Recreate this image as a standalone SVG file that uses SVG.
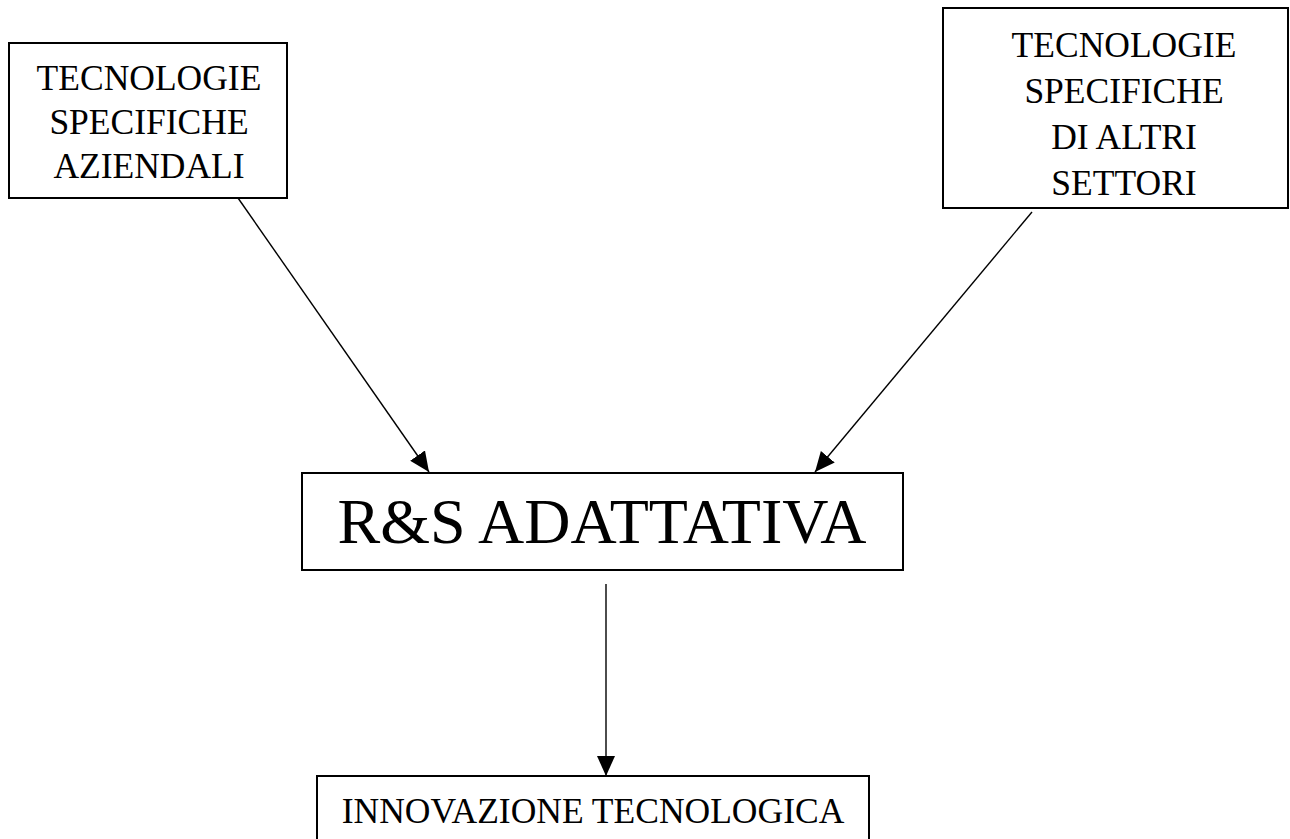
<svg xmlns="http://www.w3.org/2000/svg" width="1290" height="839" viewBox="0 0 1290 839">
<style>
  .box { fill: #ffffff; stroke: #000000; stroke-width: 2; }
  .lbl { font-family: "Liberation Serif", "Times New Roman", serif; fill: #000000; text-anchor: middle; }
  .small { font-size: 35.5px; }
  .big { font-size: 64px; }
  .conn { stroke: #000000; stroke-width: 1.4; fill: none; marker-end: url(#arrow); }
</style>
<defs>
  <marker id="arrow" markerUnits="userSpaceOnUse" markerWidth="22" markerHeight="20" refX="20" refY="9" orient="auto">
    <path d="M0,0 L20,9 L0,18 Z" fill="#000000"/>
  </marker>
</defs>
<rect width="1290" height="839" fill="#ffffff"/>
<g id="connectors">
  <line class="conn" x1="238" y1="198" x2="429" y2="472"/>
  <line class="conn" x1="1032" y1="212" x2="815" y2="472"/>
  <line class="conn" x1="606" y1="584" x2="606" y2="776"/>
</g>
<g id="node-aziendali">
  <rect class="box" x="9" y="43" width="278" height="155"/>
  <text class="lbl small" x="149" y="90">TECNOLOGIE</text>
  <text class="lbl small" x="149" y="134">SPECIFICHE</text>
  <text class="lbl small" x="149" y="178">AZIENDALI</text>
</g>
<g id="node-altri-settori">
  <rect class="box" x="943" y="8" width="345" height="200"/>
  <text class="lbl small" x="1124" y="57">TECNOLOGIE</text>
  <text class="lbl small" x="1124" y="103">SPECIFICHE</text>
  <text class="lbl small" x="1124" y="149">DI ALTRI</text>
  <text class="lbl small" x="1124" y="195">SETTORI</text>
</g>
<g id="node-rs">
  <rect class="box" x="302" y="473" width="601" height="97"/>
  <text class="lbl big" x="602" y="543">R&amp;S ADATTATIVA</text>
</g>
<g id="node-innovazione">
  <rect class="box" x="317" y="776" width="552" height="80"/>
  <text class="lbl small" x="593" y="823">INNOVAZIONE TECNOLOGICA</text>
</g>
</svg>
